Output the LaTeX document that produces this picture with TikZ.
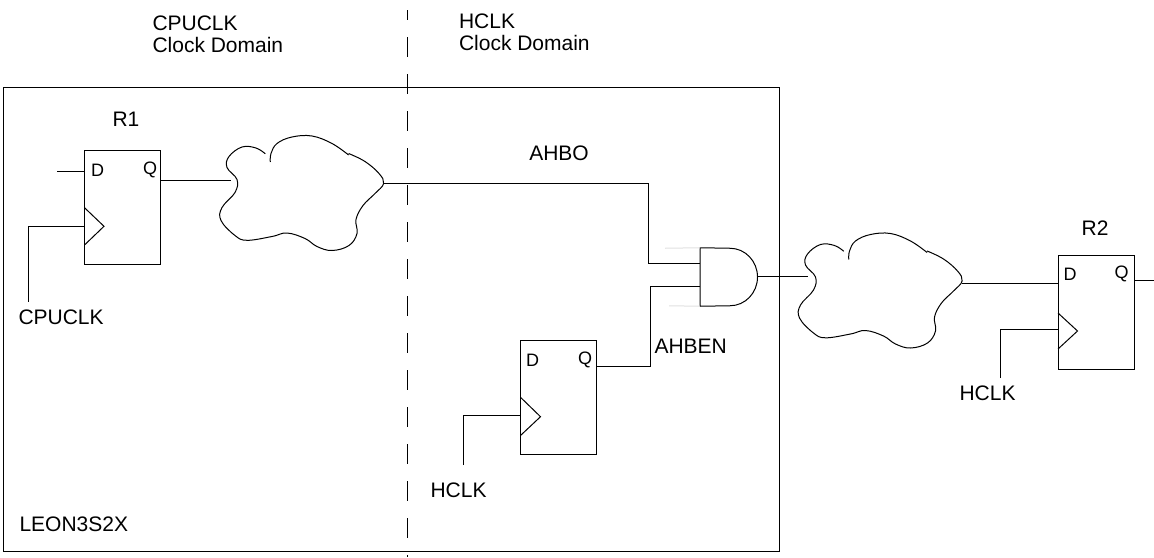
\documentclass[tikz,border=0pt]{standalone}
\usepackage{fontspec}
\setmainfont{Liberation Sans}
\tikzset{
  ffbox/.style={draw, minimum width=38pt, minimum height=57pt, inner sep=0pt},
  gatebox/.style={minimum width=28.5pt, minimum height=28.75pt, inner sep=0pt},
  lbl/.style={font=\fontsize{10.5}{10.85}\selectfont, inner sep=0pt},
  pinlbl/.style={font=\fontsize{9}{10}\selectfont, inner sep=0pt},
  faint/.style={draw=black!12},
  cloud line/.pic={
    \draw plot[smooth, tension=0.65] coordinates {(38.3,-29.7) (29,-35.5) (15,-36.5) (2,-27) (0,-16) (10,-4) (8,9) (-5,24) (-6,37) (8,52) (20,56.8) (45,53) (60,49.5) (78,55) (90,63) (105,67) (122,62) (130,50) (129,36) (136,22) (148,10) (156.6,0) (152,-10) (138,-22) (121.6,-30)};
    \draw plot[smooth, tension=0.65] coordinates {(121.6,-28.5) (105,-40) (85,-47.5) (65,-46.5) (50,-40) (44,-30) (43.3,-21.5)};
  }
}
\begin{document}
\begin{tikzpicture}[x=0.5pt, y=-0.5pt, line width=0.5pt]
\useasboundingbox (0,0) rectangle (1154,557);

\node[draw, minimum width=387.85pt, minimum height=232.35pt, inner sep=0pt] (leon) at (391.15,319.5) {};
\draw[dash pattern=on 10pt off 8.5pt, dash phase=5pt] (407,10) -- (407,557);

% text
\node[lbl, anchor=north west, align=left] (cpudom) at (152,15.7) {CPUCLK\\Clock Domain};
\node[lbl, anchor=north west, align=left] (hdom) at (458.5,13.7) {HCLK\\Clock Domain};
\node[lbl] (rone) at (126,119) {R1};
\node[lbl] (rtwo) at (1095,228) {R2};
\node[lbl] (ahbo) at (559,153) {AHBO};
\node[lbl, anchor=west] (ahben) at (654,346) {AHBEN};
\node[lbl, anchor=west] (leonlbl) at (19,524.5) {LEON3S2X};

% flip flops
\node[ffbox] (ffa) at (122.5,207.3) {};
\node[pinlbl] at (97.7,170) {D};
\node[pinlbl] at (150,170) {Q};
\draw (84.5,207.7) -- (104,226.3) -- (84.5,245);

\node[ffbox] (ffb) at (558.7,397.3) {};
\node[pinlbl] at (532.7,360) {D};
\node[pinlbl] at (585,360) {Q};
\draw (520.7,397.5) -- (540.5,416.7) -- (520.7,435.3);

\node[ffbox] (ffc) at (1096,312) {};
\node[pinlbl] at (1070,274) {D};
\node[pinlbl] at (1121.7,274) {Q};
\draw (1058,313) -- (1077.5,331) -- (1058,349);

% clouds
\pic at (227,183.5) {cloud line};
\pic at (805.5,281) {cloud line};

% gate
\node[gatebox] (gate) at (729,277) {};
\draw (gate.north west) -- (730,248.25) arc[start angle=-90, end angle=90, x radius=27.5, y radius=28.75] -- (gate.south west) -- cycle;
\draw[faint] (gate.north west) -- (665,248.25);
\draw[faint] (gate.south west) -- (669,305.75);

\node[lbl, anchor=north west] (cpuclk) at (18,309.7) {CPUCLK};
\node[lbl, anchor=north west] (hclkb) at (430,482) {HCLK};
\node[lbl, anchor=north west] (hclkc) at (959,385.7) {HCLK};

% named ends
\coordinate (ain) at (57.3,171.3);
\coordinate (aq) at (ffa.east |- 0,180.7);
\coordinate (cla) at (231,180.7);
\coordinate (cra) at (383.5,183);
\coordinate (ga) at (gate.west |- 0,263.5);
\coordinate (gb) at (gate.west |- 0,286);
\coordinate (bq) at (ffb.east |- 0,366.7);
\coordinate (clb) at (808,276.7);
\coordinate (crb) at (962,283);
\coordinate (cd) at (ffc.west |- 0,283);
\coordinate (cq) at (ffc.east |- 0,280);
\coordinate (cout) at (1154,280);

\draw (ain) -- (ain -| ffa.west);
\draw (aq) -- (cla);
\draw (cra) -| (648.5,263.5) -- (ga);
\draw (bq) -| (650,286) -- (gb);
\draw (clb -| 757.5,0) -- (clb);
\draw (crb) -- (cd);
\draw (cq) -- (cout);
\draw (28,301.7) |- (ffa.west |- 0,226);
\draw (463.3,465) |- (ffb.west |- 0,415.7);
\draw (1000.3,378) |- (ffc.west |- 0,329.7);
\end{tikzpicture}
\end{document}
